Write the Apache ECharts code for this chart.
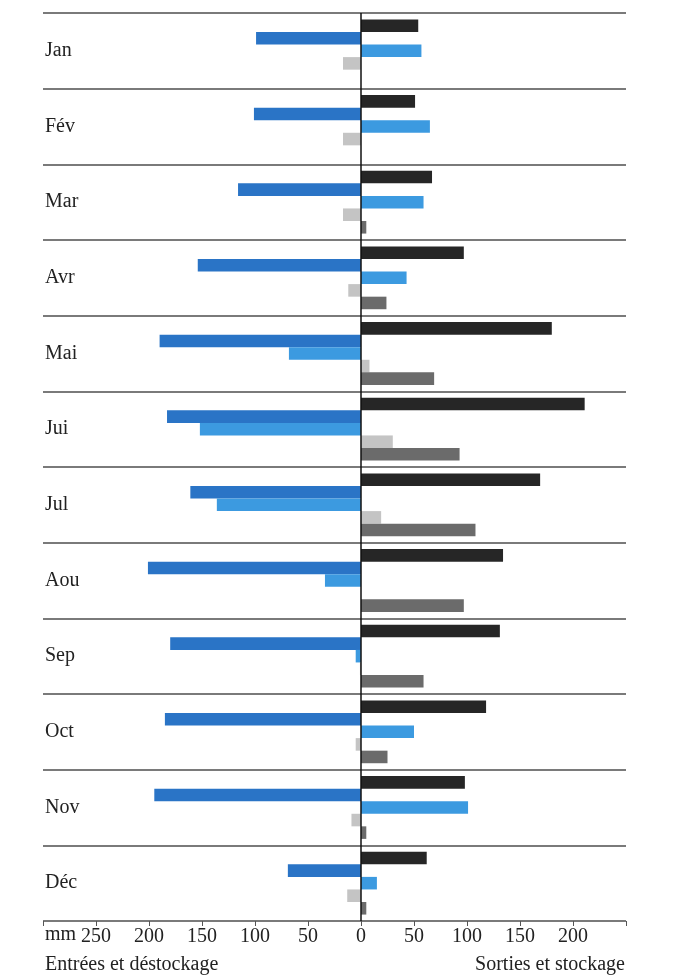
<!DOCTYPE html>
<html>
<head>
<meta charset="utf-8">
<script src="https://cdn.jsdelivr.net/npm/echarts@6/dist/echarts.min.js"></script>
<style>
  html, body { margin: 0; padding: 0; background: #fff; }
  #main { width: 678px; height: 978px; }
</style>
</head>
<body>
<div id="main"></div>
<script>
// mois
var months = ['Jan', 'Fév', 'Mar', 'Avr', 'Mai', 'Jui', 'Jul', 'Aou', 'Sep', 'Oct', 'Nov', 'Déc'];
// mm, négatif = entrées / déstockage (gauche), positif = sorties / stockage (droite)
var sortiesNoir   = [54, 51, 67, 97, 180, 211, 169, 134, 131, 118, 98, 62];
var entreesBleu   = [-99, -101, -116, -154, -190, -183, -161, -201, -180, -185, -195, -69];
var bleuClair     = [57, 65, 59, 43, -68, -152, -136, -34, -5, 50, 101, 15];
var grisClair     = [-17, -17, -17, -12, 8, 30, 19, 0, -1, -5, -9, -13];
var grisFonce     = [0, 0, 5, 24, 69, 93, 108, 97, 59, 25, 5, 5];

var serif = '"Liberation Serif", "DejaVu Serif", serif';

var chart = echarts.init(document.getElementById('main'));

function barSerie (name, data, color) {
  return {
    name: name,
    type: 'bar',
    data: data,
    barGap: '0%',
    barCategoryGap: '17%',
    itemStyle: { color: color },
    silent: true
  };
}

var series = [
  barSerie('sorties', sortiesNoir, '#262626'),
  barSerie('entrees', entreesBleu, '#2a74c6'),
  barSerie('bleuClair', bleuClair, '#3c9ae0'),
  barSerie('grisClair', grisClair, '#c4c4c4'),
  barSerie('grisFonce', grisFonce, '#6b6b6b')
];
// ligne du zéro
series[0].markLine = {
  silent: true,
  symbol: ['none', 'none'],
  label: { show: false },
  lineStyle: { color: '#111', width: 1.5, type: 'solid' },
  data: [{ xAxis: 0 }]
};

chart.setOption({
  animation: false,
  backgroundColor: '#fff',
  grid: { left: 43, right: 52, top: 13, bottom: 57 },
  xAxis: {
    type: 'value',
    min: -300,
    max: 250,
    interval: 50,
    splitLine: { show: false },
    axisLine: { lineStyle: { color: '#555', width: 1.5 } },
    axisTick: { show: true, length: 5, lineStyle: { color: '#555' } },
    axisLabel: {
      color: '#222',
      fontFamily: serif,
      fontSize: 20,
      margin: 6,
      formatter: function (v) { return (v === -300 || v === 250) ? '' : String(Math.abs(v)); }
    }
  },
  yAxis: {
    type: 'category',
    data: months,
    inverse: true,
    axisLine: { show: false, onZero: false },
    axisTick: { show: false },
    splitLine: { show: true, lineStyle: { color: '#7a7a7a', width: 2 } },
    axisLabel: {
      inside: true,
      margin: 2,
      color: '#222',
      fontFamily: serif,
      fontSize: 20
    }
  },
  graphic: [
    { type: 'text', left: 45, top: 925, style: { text: 'mm', font: '20px ' + serif, fill: '#222' } },
    { type: 'text', left: 45, top: 955, style: { text: 'Entrées et déstockage', font: '20px ' + serif, fill: '#222' } },
    { type: 'text', right: 53, top: 955, style: { text: 'Sorties et stockage', font: '20px ' + serif, fill: '#222' } }
  ],
  series: series
});
</script>
</body>
</html>
